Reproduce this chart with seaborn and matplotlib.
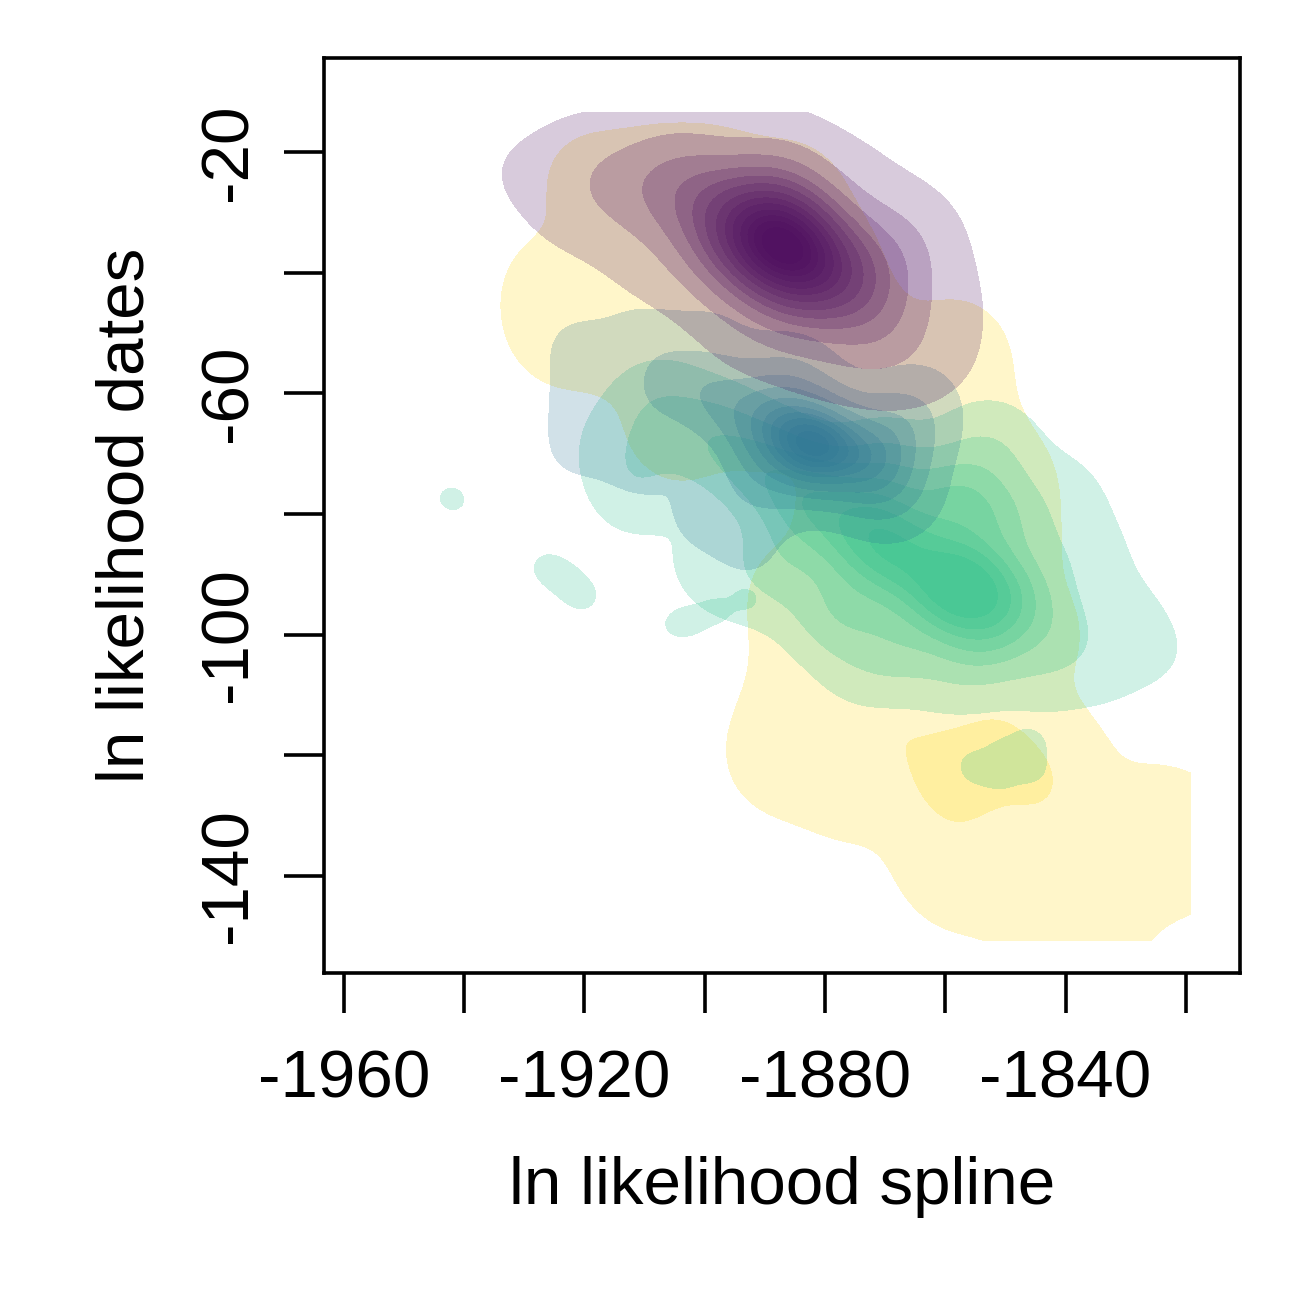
import matplotlib
matplotlib.use("Agg")
import matplotlib.pyplot as plt
from matplotlib.colors import ListedColormap
import seaborn as sns

# estimated mass points (x, y, weight)
purple_x = [-1886.7, -1893.3, -1880, -1900.8, -1873.4, -1887.5, -1885.8, -1910.8, -1897.5, -1869, -1871, -1918, -1905,
            -1932, -1920.8, -1904, -1887.5, -1874, -1864, -1858.5, -1860, -1923, -1910.8, -1894, -1881, -1867.5]
purple_y = [-35.4, -32.1, -39.6, -28, -43.7, -26.3, -44.5, -26.3, -37.9, -36.3, -51, -25, -23,
            -23, -19.7, -18, -19, -23, -33, -44.5, -54, -30.4, -39.6, -50, -55, -55]
purple_w = [25, 12, 12, 6, 6, 4, 4, 3, 3, 3, 2.5, 1.5, 2,
            0.8, 0.8, 0.8, 0.8, 0.8, 0.8, 0.8, 0.8, 0.8, 0.8, 0.8, 0.8, 0.8]

blue_x = [-1881.7, -1889, -1873.4, -1897.5, -1867.5, -1869, -1906, -1886, -1891,
          -1921.6, -1911, -1899, -1920.8, -1921.6, -1911, -1911, -1901, -1892.5, -1863.4]
blue_y = [-68.6, -65.3, -71, -61, -66, -76, -57.8, -58.6, -74.4,
          -52, -50.3, -51, -61, -69.4, -72.7, -64.4, -81, -86, -61]
blue_w = [22, 10, 10, 5, 4, 3, 3, 3, 3,
          0.8, 0.8, 0.8, 0.8, 0.8, 0.8, 0.8, 0.8, 0.8, 0.8]

green_x = [-1858.4, -1867.5, -1851, -1874, -1882.5, -1891, -1899, -1907.5, -1858.6, -1851, -1870, -1852.6, -1887.5,
           -1877.5, -1867.5, -1854, -1911, -1841, -1841, -1842, -1834.3, -1829.3, -1825, -1834, -1844, -1859,
           -1874, -1896, -1915, -1912, -1900, -1886, -1840, -1838]
green_y = [-91.8, -86.8, -94.3, -82.7, -77.7, -72.7, -67.8, -62.8, -77.7, -81, -74.4, -69.4, -87.7,
           -96, -101, -101, -72.7, -75, -87.7, -98.4, -87.7, -96, -103, -106, -106, -106,
           -105, -94.3, -68, -78, -88, -93, -100, -80]
green_w = [18, 12, 9, 10, 8, 5, 3.5, 2, 6, 4, 4, 2, 3,
           4, 3, 3.5, 1.5, 0.6, 1.2, 1.3, 0.5, 0.6, 0.6, 0.7, 1, 1,
           0.9, 0.4, 0.6, 0.6, 0.8, 0.4, 1, 0.5]

island_x = [-1942.5, -1941.5, -1926, -1923, -1920.5, -1905, -1902, -1898, -1893, -1855, -1850, -1846, -1846, -1851]
island_y = [-77.5, -77.5, -89, -91, -93.5, -98.5, -97.5, -96, -94, -122, -120, -118, -122, -123]
island_w = [0.7, 0.7, 1.5, 1.5, 1.5, 1, 1.2, 1.2, 1.2, 1.6, 1.6, 1.6, 1.6, 1.6]

yellow_x = [-1918, -1907, -1897.5, -1885, -1924, -1924, -1912, -1897.5, -1879, -1912, -1894, -1874, -1857.5, -1857.5, -1850,
            -1905, -1891, -1874, -1876, -1857.5, -1850, -1884, -1867.5, -1846, -1882, -1871, -1852.5, -1884, -1871, -1851,
            -1842, -1888, -1876, -1859, -1844, -1826, -1860, -1848, -1833, -1822, -1858, -1845, -1834, -1822, -1838]
yellow_y = [-26, -25, -25, -27, -43, -50, -38, -38, -38, -51, -51, -50, -53, -64.5, -74,
            -66, -64, -66, -81, -81, -85, -94, -94, -99, -103, -104, -104, -113, -114, -117,
            -121, -121, -124, -123.5, -126, -134, -134, -136, -136, -134, -140, -144, -143, -134, -148]
yellow_w = [1, 1, 1, 1, 1, 1, 1, 1, 1, 1, 1, 1, 1, 1, 1,
            1, 1, 1, 1, 1, 1, 1, 1, 1, 1, 1, 1, 1, 3, 3,
            1, 1, 1.5, 5, 2.5, 1, 1, 1, 1, 1, 1, 1, 1, 1, 1]

purple_levels = [0.03, 0.15, 0.27, 0.38, 0.47, 0.55, 0.63, 0.7, 0.76, 0.82, 0.87, 0.91, 0.95]
blue_levels = [0.04, 0.2, 0.35, 0.48, 0.6, 0.7, 0.78, 0.85, 0.91, 0.96]
green_levels = [0.025, 0.14, 0.3, 0.45, 0.6, 0.72, 0.85]
yellow_levels = [0.04, 0.88]
island_levels = [0.35]

x_ticks = list(range(-1960, -1800, 20))
y_ticks = list(range(-140, 0, 20))

view = ((-1963.3, -1811), (-156.1, -4.4))

# far away points with a tiny weight make the kernel round instead of
# following the tilt of the cloud, they sit well outside the axes
FAR = 3000
FAR_SHARE = 0.00142
KERNEL_BASE = 80


def density_layers(ax, x, y, w, levels, color, sd, clip=view):
    far_w = sum(w) * FAR_SHARE / 4
    xs = x + [-1880 - FAR, -1880 + FAR, -1880, -1880]
    ys = y + [-70, -70, -70 - FAR, -70 + FAR]
    ws = w + [far_w] * 4
    # each level is its own transparent fill so the layers stack up
    for lev in levels:
        sns.kdeplot(x=xs, y=ys, weights=ws, levels=[lev, 1], fill=True, bw_method=sd / KERNEL_BASE,
                    cmap=ListedColormap([color]), alpha=0.21, gridsize=220, clip=clip, ax=ax)


sns.set_theme(style="white")
plt.rcParams["font.family"] = ["Liberation Sans", "DejaVu Sans"]

fig = plt.figure(figsize=(13, 13), dpi=100)
ax = fig.add_axes([324 / 1300, 1 - 973 / 1300, 916 / 1300, 915 / 1300])

density_layers(ax, yellow_x, yellow_y, yellow_w, yellow_levels, "#FFD605", 5.5,
               clip=((-1963.3, -1819.3), (-150.7, -4.4)))
density_layers(ax, green_x, green_y, green_w, green_levels, "#22C08A", 5)
density_layers(ax, island_x, island_y, island_w, island_levels, "#22C08A", 2)
density_layers(ax, blue_x, blue_y, blue_w, blue_levels, "#2A7396", 4.5)
density_layers(ax, purple_x, purple_y, purple_w, purple_levels, "#4B0A5E", 6,
               clip=((-1963.3, -1811), (-156.1, -13.5)))

ax.set_xlim(-1963.3, -1811)
ax.set_ylim(-156.1, -4.4)
ax.set_xticks(x_ticks)
ax.set_yticks(y_ticks)
ax.set_xticklabels([str(t) if i % 2 == 0 else "" for i, t in enumerate(x_ticks)], fontsize=48.5)
ax.set_yticklabels([str(t) if i % 2 == 0 else "" for i, t in enumerate(y_ticks)], fontsize=48.5,
                   rotation=90, va="center")
ax.tick_params(axis="x", length=29, width=2.6, color="black", labelcolor="black", pad=26, bottom=True)
ax.tick_params(axis="y", length=29, width=2.6, color="black", labelcolor="black", pad=17, left=True)
for s in ax.spines.values():
    s.set_linewidth(2.6)
    s.set_color("black")
ax.set_xlabel("ln likelihood spline", fontsize=48.5, labelpad=32, color="black")
ax.set_ylabel("ln likelihood dates", fontsize=48.5, labelpad=29, color="black")

fig.savefig("out.png", dpi=100)
